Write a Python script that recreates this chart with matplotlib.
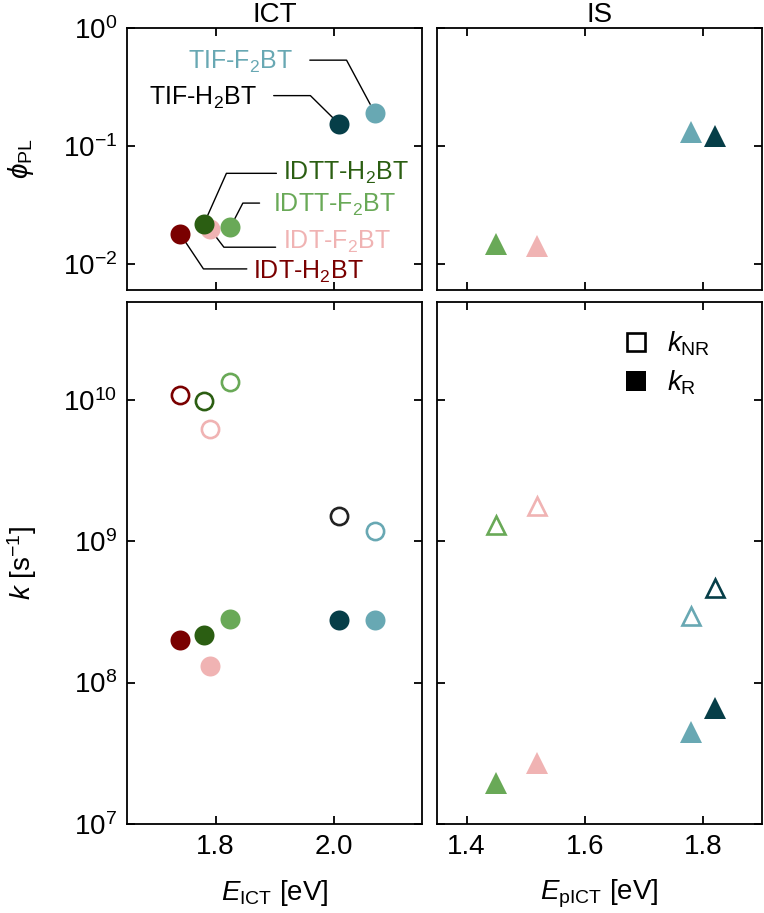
import numpy as np
import matplotlib
matplotlib.use("Agg")
import matplotlib.pyplot as plt
from matplotlib.lines import Line2D
from matplotlib.ticker import NullLocator, FixedLocator, FuncFormatter

plt.rcParams['font.family'] = ['Liberation Sans', 'DejaVu Sans']
plt.rcParams['mathtext.fontset'] = 'custom'
plt.rcParams['mathtext.rm'] = 'Liberation Sans'
plt.rcParams['mathtext.it'] = 'Liberation Sans:italic'
plt.rcParams['mathtext.bf'] = 'Liberation Sans:bold'

# ---------------- data ----------------
names = ["IDT-H$_2$BT", "IDT-F$_2$BT", "IDTT-H$_2$BT", "IDTT-F$_2$BT", "TIF-H$_2$BT", "TIF-F$_2$BT"]
colors = ["#7a0000", "#f0b3b3", "#2b5e12", "#69a957", "#063e48", "#68a8b3"]
open_colors = ["#7a0000", "#f0b3b3", "#2b5e12", "#69a957", "#222222", "#68a8b3"]

# ICT (left column)
E_ICT = [1.74, 1.79, 1.78, 1.825, 2.01, 2.07]
phi_ICT = [0.018, 0.020, 0.0217, 0.0204, 0.153, 0.191]
kNR_ICT = [1.07e10, 6.2e9, 9.7e9, 1.34e10, 1.5e9, 1.17e9]
kR_ICT = [2.0e8, 1.3e8, 2.17e8, 2.8e8, 2.75e8, 2.75e8]

# IS (right column) -- only for four compounds
is_idx = [3, 1, 5, 4]
E_pICT = [1.45, 1.52, 1.78, 1.82]
phi_IS = [0.0149, 0.0143, 0.131, 0.121]
kNR_IS = [1.29e9, 1.77e9, 2.94e8, 4.68e8]
kR_IS = [1.95e7, 2.7e7, 4.5e7, 6.6e7]

# ---------------- figure ----------------
W, H = 764, 913
fig = plt.figure(figsize=(W / 100, H / 100), dpi=100)

def rect(x0, y0, x1, y1):
    return [x0 / W, 1 - y1 / H, (x1 - x0) / W, (y1 - y0) / H]

axTL = fig.add_axes(rect(127, 28, 422, 290))
axTR = fig.add_axes(rect(437, 28, 762, 290))
axBL = fig.add_axes(rect(127, 302, 422, 824))
axBR = fig.add_axes(rect(437, 302, 762, 824))

FS = 20
for ax in (axTL, axTR, axBL, axBR):
    ax.set_yscale('log')
    for s in ax.spines.values():
        s.set_linewidth(1.3)
    ax.tick_params(which='major', direction='in', length=6, width=1.3,
                   top=True, right=True, labelsize=FS, pad=7)
    ax.yaxis.set_minor_locator(NullLocator())
    ax.xaxis.set_minor_locator(NullLocator())

for ax in (axTL, axBL):
    ax.set_xlim(1.65, 2.15)
    ax.xaxis.set_major_locator(FixedLocator([1.8, 2.0]))
for ax in (axTR, axBR):
    ax.set_xlim(1.35, 1.9)
    ax.xaxis.set_major_locator(FixedLocator([1.4, 1.6, 1.8]))

for ax in (axTL, axTR):
    ax.set_ylim(10 ** -2.22, 1.0)
    ax.yaxis.set_major_locator(FixedLocator([1e-2, 1e-1, 1e0]))
    ax.tick_params(labelbottom=False)
for ax in (axBL, axBR):
    ax.set_ylim(1e7, 10 ** 10.69)
    ax.yaxis.set_major_locator(FixedLocator([1e7, 1e8, 1e9, 1e10]))
for ax in (axTR, axBR):
    ax.tick_params(labelleft=False)

def fmt_x(v, pos):
    return f"{v:.1f}"
for ax in (axBL, axBR):
    ax.xaxis.set_major_formatter(FuncFormatter(fmt_x))

# ---------------- markers ----------------
circ_ms = 14.4
open_circ_ms = 12.4
open_mew = 1.9
tri_ms = 15.5
open_tri_ms = 13.0

for i in range(len(names)):
    axTL.plot(E_ICT[i], phi_ICT[i], 'o', ms=circ_ms, color=colors[i], mew=0, zorder=3)
    axBL.plot(E_ICT[i], kNR_ICT[i], 'o', ms=open_circ_ms, mfc='white', mec=open_colors[i],
              mew=open_mew, zorder=3)
    axBL.plot(E_ICT[i], kR_ICT[i], 'o', ms=circ_ms, color=colors[i], mew=0, zorder=3)

for j, i in enumerate(is_idx):
    axTR.plot(E_pICT[j], phi_IS[j], '^', ms=tri_ms, color=colors[i], mew=0, zorder=3)
    axBR.plot(E_pICT[j], kNR_IS[j], '^', ms=open_tri_ms, mfc='white', mec=colors[i],
              mew=open_mew, zorder=3)
    axBR.plot(E_pICT[j], kR_IS[j], '^', ms=tri_ms, color=colors[i], mew=0, zorder=3)

# ---------------- labels with leader lines (offsets in px) ----------------
# (text_dx, text_dy, ha, line_dx, line_dy, angleB)
label_layout = {
    5: (-82, 44.4, 'right', -65, 52.7, -61.8),
    4: (-82.3, 19.3, 'right', -65.7, 28.6, -44.6),
    2: (79, 44.3, 'left', 72.7, 51, -114.0),
    3: (42.6, 16, 'left', 29.3, 24.4, -117.3),
    1: (73.3, -20.3, 'left', 66, -18.7, 127.4),
    0: (73.3, -45, 'left', 66.7, -35, 123.7),
}
P = 0.72  # px -> pt
LFS = 18
for i, (tdx, tdy, ha, ldx, ldy, angB) in label_layout.items():
    tc = colors[i] if i != 4 else "#000000"
    axTL.annotate(names[i], xy=(E_ICT[i], phi_ICT[i]), xytext=(tdx * P, tdy * P),
                  textcoords='offset points', ha=ha, va='baseline', color=tc,
                  fontsize=LFS, zorder=4)
    axTL.annotate('', xy=(E_ICT[i], phi_ICT[i]), xytext=(ldx * P, ldy * P),
                  textcoords='offset points',
                  arrowprops=dict(arrowstyle='-', color='black', lw=1.0,
                                  shrinkA=0, shrinkB=7,
                                  connectionstyle=f'angle,angleA=0,angleB={angB},rad=0'),
                  zorder=2)

# ---------------- titles / axis labels ----------------
axTL.set_title('ICT', fontsize=FS, pad=4)
axTR.set_title('IS', fontsize=FS, pad=4)
axTL.set_ylabel(r'$\phi_{\mathrm{PL}}$', fontsize=FS)
axTL.yaxis.set_label_coords(-0.308, 0.5)
axBL.set_ylabel(r'$k$ [s$^{-1}$]', fontsize=FS)
axBL.yaxis.set_label_coords(-0.30, 0.5)
axBL.set_xlabel(r'$E_{\mathrm{ICT}}$ [eV]', fontsize=FS, labelpad=13)
axBR.set_xlabel(r'$E_{\mathrm{pICT}}$ [eV]', fontsize=FS, labelpad=13)

# ---------------- legend ----------------
handles = [Line2D([], [], ls='none', marker='s', ms=12.6, mfc='white', mec='black', mew=1.9),
           Line2D([], [], ls='none', marker='s', ms=14, mfc='black', mec='black', mew=0)]
axBR.legend(handles, [r'$k_{\mathrm{NR}}$', r'$k_{\mathrm{R}}$'], loc='upper left',
            bbox_to_anchor=(0.51, 0.985), frameon=False, fontsize=FS,
            handlelength=1.0, handletextpad=0.6, labelspacing=0.4, borderpad=0.2)

fig.savefig('out.png', dpi=100)
